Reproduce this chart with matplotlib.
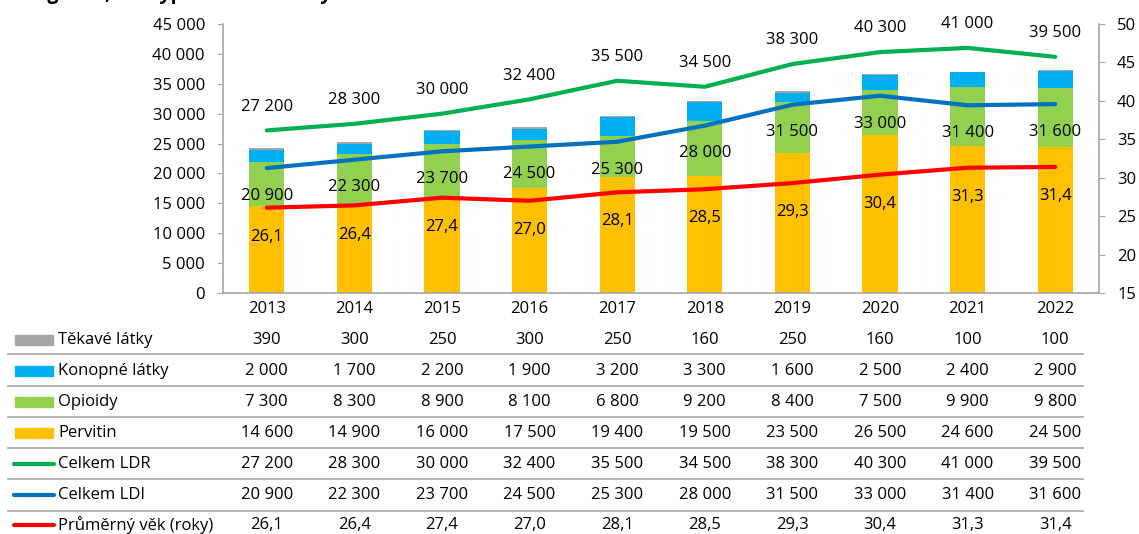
import numpy as np
import matplotlib
matplotlib.use('Agg')
import matplotlib.pyplot as plt
from matplotlib import transforms
from matplotlib.lines import Line2D
from matplotlib.patches import Rectangle

plt.rcParams['font.family'] = ['Open Sans', 'DejaVu Sans']

roky = [2013, 2014, 2015, 2016, 2017, 2018, 2019, 2020, 2021, 2022]
tekave = [390, 300, 250, 300, 250, 160, 250, 160, 100, 100]
konopne = [2000, 1700, 2200, 1900, 3200, 3300, 1600, 2500, 2400, 2900]
opioidy = [7300, 8300, 8900, 8100, 6800, 9200, 8400, 7500, 9900, 9800]
pervitin = [14600, 14900, 16000, 17500, 19400, 19500, 23500, 26500, 24600, 24500]
celkem_ldr = [27200, 28300, 30000, 32400, 35500, 34500, 38300, 40300, 41000, 39500]
celkem_ldi = [20900, 22300, 23700, 24500, 25300, 28000, 31500, 33000, 31400, 31600]
vek = [26.1, 26.4, 27.4, 27.0, 28.1, 28.5, 29.3, 30.4, 31.3, 31.4]

c_tek = '#A5A5A5'
c_kon = '#00B0F0'
c_opi = '#92D050'
c_per = '#FFC000'
c_ldr = '#00B050'
c_ldi = '#0070C0'
c_vek = '#FF0000'
seda = '#A6A6A6'
fs = 12


def tis(v):
    return f'{v:,}'.replace(',', ' ')


def des(v):
    return f'{v:.1f}'.replace('.', ',')


W, H = 1139, 534
fig = plt.figure(figsize=(W / 100, H / 100), dpi=100)
ax2 = fig.add_axes([223 / W, 1 - 293 / H, (1099 - 223) / W, (293 - 24) / H])
ax = fig.add_axes(ax2.get_position(), sharex=ax2)
ax2.yaxis.tick_right()
ax2.set_ylim(15, 50)
ax2.set_yticks(range(15, 51, 5))

x = np.arange(len(roky))
sirka = 0.4
dole = np.zeros(len(roky))
for vals, col in [(pervitin, c_per), (opioidy, c_opi), (konopne, c_kon), (tekave, c_tek)]:
    ax.bar(x, vals, sirka, bottom=dole, color=col, zorder=2)
    dole += np.array(vals)

ax.plot(x, celkem_ldr, color=c_ldr, lw=3, zorder=3, solid_capstyle='round')
ax.plot(x, celkem_ldi, color=c_ldi, lw=3, zorder=3, solid_capstyle='round')
# age line lives on the right scale but is drawn above the bars
ax.plot(x, vek, color=c_vek, lw=3, zorder=3, solid_capstyle='round',
        transform=ax2.transData)

for i in range(len(roky)):
    ax.annotate(tis(celkem_ldr[i]), (x[i], celkem_ldr[i]), xytext=(0, 17),
                textcoords='offset points', ha='center', va='center', fontsize=fs)
    ax.annotate(tis(celkem_ldi[i]), (x[i], celkem_ldi[i]), xytext=(0, -20),
                textcoords='offset points', ha='center', va='center', fontsize=fs)
    ax.annotate(des(vek[i]), (x[i], vek[i]), xycoords=ax2.transData, xytext=(0, -21),
                textcoords='offset points', ha='center', va='center', fontsize=fs,
                zorder=4)

ax.set_xlim(-0.5, len(roky) - 0.5)
ax.set_ylim(0, 45000)
ax.set_yticks(range(0, 45001, 5000))
ax.set_yticklabels([tis(v) for v in range(0, 45001, 5000)])
ax.set_xticks(x)
ax.set_xticklabels([str(r) for r in roky])
ax.tick_params(axis='x', length=0, pad=6, labelsize=fs)
ax2.tick_params(axis='x', bottom=False, labelbottom=False)
ax.tick_params(axis='y', direction='out', length=4, color=seda, labelsize=fs, pad=9)
ax2.tick_params(axis='y', direction='out', length=4, color=seda, labelsize=fs, pad=9)
for s in ('top', 'right'):
    ax.spines[s].set_visible(False)
for s in ('top', 'left', 'bottom'):
    ax2.spines[s].set_visible(False)
for s in ('left', 'bottom'):
    ax.spines[s].set_color(seda)
    ax.spines[s].set_linewidth(1.2)
ax2.spines['right'].set_color(seda)
ax2.spines['right'].set_linewidth(1.2)
ax.patch.set_visible(False)

# title, cut off by the top edge as in the source
fig.text(332 / W, 1 + 1 / H, 'Odhad počtu uživatelů drog v ČR, dle typu užívané látky',
         ha='right', va='baseline', fontsize=14, fontweight='bold')

# data table under the chart
tr = transforms.blended_transform_factory(ax.transData, fig.transFigure)
radky = [
    ('Těkavé látky', 'bar', c_tek, [tis(v) for v in tekave]),
    ('Konopné látky', 'bar', c_kon, [tis(v) for v in konopne]),
    ('Opioidy', 'bar', c_opi, [tis(v) for v in opioidy]),
    ('Pervitin', 'bar', c_per, [tis(v) for v in pervitin]),
    ('Celkem LDR', 'line', c_ldr, [tis(v) for v in celkem_ldr]),
    ('Celkem LDI', 'line', c_ldi, [tis(v) for v in celkem_ldi]),
    ('Průměrný věk (roky)', 'line', c_vek, [des(v) for v in vek]),
]
y_radku = [340, 371, 402, 433, 464, 495, 525]
y_car = [354, 386, 417, 448, 479, 511]

for (nazev, typ, col, hodnoty), yp in zip(radky, y_radku):
    yf = 1 - yp / H
    if typ == 'bar':
        fig.add_artist(Rectangle((15 / W, yf - 5 / H), 38 / W, 10 / H,
                                 transform=fig.transFigure, color=col))
    else:
        fig.add_artist(Line2D([14 / W, 54 / W], [yf, yf], transform=fig.transFigure,
                              color=col, lw=3, solid_capstyle='round'))
    fig.text(58 / W, yf, nazev, ha='left', va='center', fontsize=fs)
    for i, h in enumerate(hodnoty):
        fig.text(x[i], yf, h, transform=tr, ha='center', va='center', fontsize=fs)

for yp in y_car:
    fig.add_artist(Line2D([8 / W, 1083 / W], [1 - yp / H, 1 - yp / H],
                          transform=fig.transFigure, color=seda, lw=1.2))

fig.savefig('out.png', dpi=100)
